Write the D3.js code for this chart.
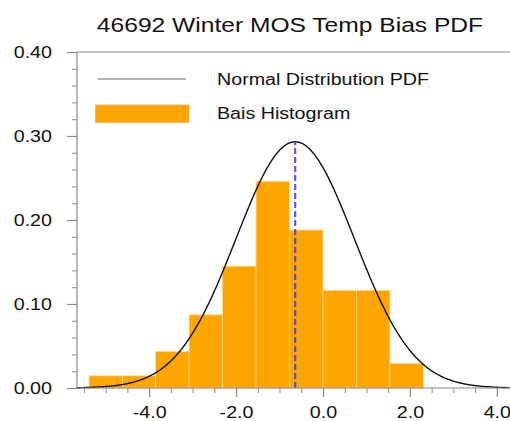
<!DOCTYPE html>
<html>
<head>
<meta charset="utf-8">
<script src="https://cdn.jsdelivr.net/npm/d3@7"></script>
<style>
  html, body { margin: 0; padding: 0; background: #fff; }
  svg { display: block; }
  text { font-family: "Liberation Sans", Arial, Helvetica, sans-serif; fill: #111; }
</style>
</head>
<body>
<svg id="chart" width="510" height="421"></svg>
<script>
// Histogram of temperature bias (bin edges and relative frequencies)
const binEdges = [-5.38, -4.61, -3.85, -3.08, -2.31, -1.54, -0.77, 0.0, 0.77, 1.54, 2.31];
const binFreq  = [0.0145, 0.0145, 0.0435, 0.087, 0.145, 0.246, 0.188, 0.116, 0.116, 0.029];

// Fitted normal distribution parameters
const biasMean = -0.64;
const biasStd  = 1.361;

// Axis ticks
const xMajorTicks = [-4, -2, 0, 2, 4];
const xTickLabels = ["-4.0", "-2.0", "0.0", "2.0", "4.0"];
const yMajorTicks = [0, 0.1, 0.2, 0.3, 0.4];
const yTickLabels = ["0.00", "0.10", "0.20", "0.30", "0.40"];

const titleText = "46692 Winter MOS Temp Bias PDF";
const legendItems = ["Normal Distribution PDF", "Bais Histogram"];

const svg = d3.select("#chart");

const plotLeft = 77, plotBottom = 388, plotTop = 52, plotRight = 510;
const x = d3.scaleLinear().domain([-5.66, 4.5]).range([plotLeft, plotLeft + 10.16 * 43.46]);
const y = d3.scaleLinear().domain([0, 0.4]).range([plotBottom, plotTop]);

const axisColor = "#8a8a8a";
const wide = 1.23;   // horizontal stretch of the lettering

// Bars
const bins = binFreq.map((f, i) => ({ x0: binEdges[i], x1: binEdges[i + 1], f }));
svg.append("g").selectAll("rect").data(bins).join("rect")
  .attr("x", d => x(d.x0))
  .attr("y", d => y(d.f))
  .attr("width", d => x(d.x1) - x(d.x0))
  .attr("height", d => y(0) - y(d.f))
  .attr("fill", "#ffa500")
  .attr("stroke", "#ffd68a")
  .attr("stroke-width", 0.8);

// Normal PDF curve
const pdf = v => Math.exp(-0.5 * ((v - biasMean) / biasStd) ** 2) / (biasStd * Math.sqrt(2 * Math.PI));
const xs = d3.range(-5.66, 4.6, 0.02);
svg.append("path")
  .datum(xs)
  .attr("fill", "none")
  .attr("stroke", "#111")
  .attr("stroke-width", 1.4)
  .attr("d", d3.line().x(v => x(v)).y(v => y(pdf(v))));

// Mean marker
svg.append("line")
  .attr("x1", x(biasMean)).attr("x2", x(biasMean))
  .attr("y1", y(0)).attr("y2", y(pdf(biasMean)))
  .attr("stroke", "#3c3ce6")
  .attr("stroke-opacity", 0.85)
  .attr("stroke-width", 2.2)
  .attr("stroke-dasharray", "6,3");

// Frame lines (left, top, bottom)
svg.append("line").attr("x1", plotLeft).attr("x2", plotLeft).attr("y1", plotTop).attr("y2", plotBottom)
  .attr("stroke", axisColor).attr("stroke-width", 1.2);
svg.append("line").attr("x1", plotLeft).attr("x2", plotRight).attr("y1", plotTop).attr("y2", plotTop)
  .attr("stroke", axisColor).attr("stroke-width", 1.2);
svg.append("line").attr("x1", plotLeft).attr("x2", plotRight).attr("y1", plotBottom).attr("y2", plotBottom)
  .attr("stroke", axisColor).attr("stroke-width", 1.2);

// X axis ticks
const xMinor = d3.range(-5.5, 4.51, 0.5).filter(v => !xMajorTicks.includes(v));
const gx = svg.append("g").attr("transform", `translate(0,${plotBottom})`)
  .call(d3.axisBottom(x).tickValues(xMajorTicks).tickSize(9)
    .tickFormat((d, i) => xTickLabels[i]));
gx.select(".domain").remove();
gx.selectAll("line").attr("stroke", axisColor).attr("stroke-width", 1.2);
gx.selectAll("text")
  .attr("y", 30).attr("dy", null)
  .attr("font-size", 16).attr("fill", "#111")
  .attr("font-family", "Liberation Sans, Arial, sans-serif")
  .attr("transform", `scale(${wide},1)`);
const gxm = svg.append("g").attr("transform", `translate(0,${plotBottom})`)
  .call(d3.axisBottom(x).tickValues(xMinor).tickSize(5).tickFormat(""));
gxm.select(".domain").remove();
gxm.selectAll("line").attr("stroke", axisColor).attr("stroke-width", 1);

// Y axis ticks
const yMinor = d3.range(0.02, 0.4, 0.02).filter(v => Math.abs(v * 10 - Math.round(v * 10)) > 1e-6);
const gy = svg.append("g").attr("transform", `translate(${plotLeft},0)`)
  .call(d3.axisLeft(y).tickValues(yMajorTicks).tickSize(10)
    .tickFormat((d, i) => yTickLabels[i]));
gy.select(".domain").remove();
gy.selectAll("line").attr("stroke", axisColor).attr("stroke-width", 1.2);
gy.selectAll("text")
  .attr("x", -25 / wide)
  .attr("font-size", 16).attr("fill", "#111")
  .attr("font-family", "Liberation Sans, Arial, sans-serif")
  .attr("transform", `scale(${wide},1)`);
const gym = svg.append("g").attr("transform", `translate(${plotLeft},0)`)
  .call(d3.axisLeft(y).tickValues(yMinor).tickSize(5).tickFormat(""));
gym.select(".domain").remove();
gym.selectAll("line").attr("stroke", axisColor).attr("stroke-width", 1);

// Stretched text helper
function label(tx, ty, str, size, anchor) {
  return svg.append("text")
    .attr("transform", `translate(${tx},${ty}) scale(${wide},1)`)
    .attr("font-size", size)
    .attr("text-anchor", anchor || "start")
    .text(str);
}

// Legend
svg.append("line").attr("x1", 98).attr("x2", 186).attr("y1", 79).attr("y2", 79)
  .attr("stroke", "#666").attr("stroke-width", 1.2);
label(217, 85, legendItems[0], 16);
svg.append("rect").attr("x", 95.5).attr("y", 105).attr("width", 93.5).attr("height", 17.5)
  .attr("fill", "#ffa500").attr("stroke", "#e8b060").attr("stroke-width", 0.8);
label(217, 118.5, legendItems[1], 16);

// Title
label(290, 32, titleText, 20, "middle");
</script>
</body>
</html>
